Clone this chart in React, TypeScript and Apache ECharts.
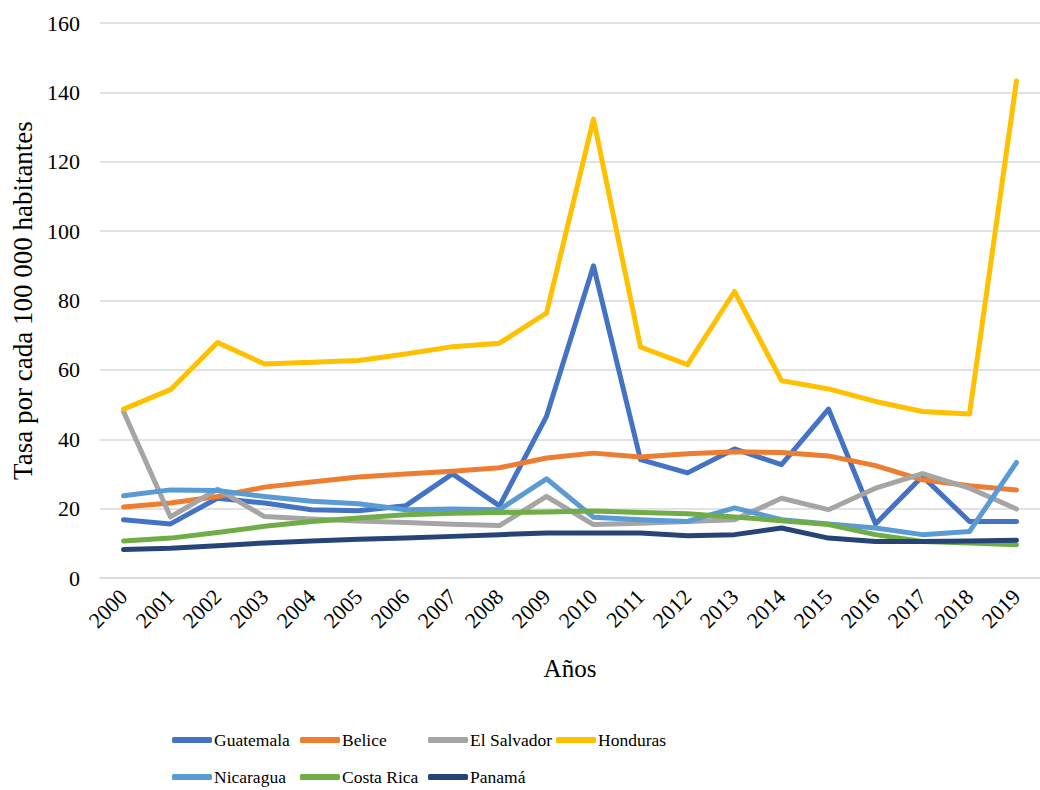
import React, { useEffect, useRef } from "react";
import * as echarts from "echarts";

const years = ["2000","2001","2002","2003","2004","2005","2006","2007","2008","2009","2010","2011","2012","2013","2014","2015","2016","2017","2018","2019"];
const guatemala = [16.8, 15.6, 23.0, 21.6, 19.7, 19.4, 20.8, 30.0, 20.8, 46.6, 90.0, 34.1, 30.3, 37.2, 32.7, 48.7, 15.6, 29.3, 16.3, 16.3];
const belice = [20.5, 21.6, 23.5, 26.2, 27.7, 29.1, 30.0, 30.8, 31.8, 34.6, 36.0, 34.9, 35.8, 36.4, 36.2, 35.2, 32.4, 28.3, 26.6, 25.4];
const elSalvador = [48.0, 17.6, 25.6, 17.7, 17.0, 16.4, 16.0, 15.5, 15.1, 23.5, 15.4, 15.8, 16.3, 16.8, 23.0, 19.7, 25.9, 30.1, 25.9, 19.9];
const honduras = [48.7, 54.3, 67.9, 61.7, 62.2, 62.7, 64.6, 66.7, 67.7, 76.4, 132.3, 66.6, 61.5, 82.6, 56.9, 54.5, 50.9, 48.0, 47.3, 143.3];
const nicaragua = [23.7, 25.4, 25.2, 23.5, 22.1, 21.4, 19.7, 19.9, 19.7, 28.6, 17.5, 16.8, 16.3, 20.2, 16.8, 15.6, 14.4, 12.5, 13.4, 33.3];
const costaRica = [10.7, 11.5, 13.1, 14.9, 16.3, 17.3, 18.2, 18.7, 18.9, 19.0, 19.3, 18.9, 18.5, 17.6, 16.5, 15.4, 12.5, 10.5, 10.1, 9.6];
const panama = [8.2, 8.6, 9.3, 10.1, 10.7, 11.2, 11.5, 12.0, 12.5, 13.0, 13.0, 13.0, 12.2, 12.5, 14.4, 11.5, 10.5, 10.5, 10.7, 10.9];

const seriesNames = ["Guatemala", "Belice", "El Salvador", "Honduras", "Nicaragua", "Costa Rica", "Panamá"];
const seriesData = [guatemala, belice, elSalvador, honduras, nicaragua, costaRica, panama];
const colors = ["#4472C4", "#ED7D31", "#A5A5A5", "#FFC000", "#5B9BD5", "#70AD47", "#264478"];

const FONT = "Liberation Serif";

export default function App() {
  const ref = useRef<HTMLDivElement>(null);
  useEffect(() => {
    document.body.style.margin = "0";
    const chart = echarts.init(ref.current!, null, { renderer: "svg" });
    const legends = seriesNames.map((name, i) => ({
      left: 167 + (i % 4) * 128,
      top: i < 4 ? 726 : 763,
      orient: "horizontal",
      icon: "roundRect",
      itemWidth: 40,
      itemHeight: 6,
      itemGap: 0,
      data: [name],
      textStyle: { fontFamily: FONT, fontSize: 17.5, color: "#000", padding: [0, 0, 0, -3] },
    }));
    chart.setOption({
      animation: false,
      color: colors,
      textStyle: { fontFamily: FONT },
      legend: legends,
      grid: { left: 100, top: 23, width: 947, height: 555, containLabel: false },
      xAxis: {
        type: "category",
        data: years,
        boundaryGap: true,
        name: "Años",
        nameLocation: "middle",
        nameGap: 78,
        nameTextStyle: { fontFamily: FONT, fontSize: 25, color: "#000" },
        axisLine: { lineStyle: { color: "#d9d9d9", width: 1.5 } },
        axisTick: { show: false },
        axisLabel: { rotate: 45, margin: 15, fontFamily: FONT, fontSize: 22, color: "#000", interval: 0 },
      },
      yAxis: {
        type: "value",
        min: 0,
        max: 160,
        interval: 20,
        name: "Tasa por cada 100 000 habitantes",
        nameLocation: "middle",
        nameGap: 64,
        nameTextStyle: { fontFamily: FONT, fontSize: 27, color: "#000" },
        axisLine: { show: false },
        axisTick: { show: false },
        axisLabel: { margin: 20, fontFamily: FONT, fontSize: 22, color: "#000" },
        splitLine: { lineStyle: { color: "#d9d9d9", width: 1.5 } },
      },
      series: seriesNames.map((name, i) => ({
        name,
        type: "line",
        data: seriesData[i],
        symbol: "none",
        showSymbol: false,
        lineStyle: { width: 5, color: colors[i], cap: "round", join: "round" },
        itemStyle: { color: colors[i] },
      })),
    });
    return () => chart.dispose();
  }, []);
  return <div ref={ref} style={{ width: 1040, height: 790 }} />;
}
